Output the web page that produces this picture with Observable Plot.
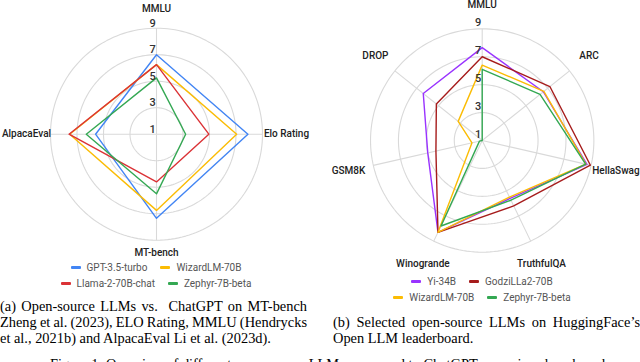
<!DOCTYPE html>
<html><head><meta charset="utf-8">
<script src="https://cdn.jsdelivr.net/npm/d3@7"></script>
<script src="https://cdn.jsdelivr.net/npm/@observablehq/plot@0.6"></script>
<style>
body{margin:0;background:#fff;width:640px;height:362px;overflow:hidden;position:relative;font-family:Roboto,sans-serif}
.chart{position:absolute;top:0}
.legend{position:absolute;font:10px Roboto,sans-serif;color:#555}
.row{display:flex;justify-content:center;align-items:center;height:16px;gap:13px}
.item{display:flex;align-items:center;gap:6px;white-space:nowrap}
.sw{width:10px;height:3px;border-radius:1px}
.cap{position:absolute;font-family:"Liberation Serif","Times New Roman",serif;font-size:14.4px;line-height:16px;color:#000}
.cap div{white-space:nowrap}
.j{text-align:justify;text-align-last:justify;word-spacing:-1.2px}
</style></head><body>
<div id="left" class="chart" style="left:0"></div>
<div id="right" class="chart" style="left:320px"></div>
<div id="legL" class="legend" style="left:0;width:312px;top:259px"></div>
<div id="legR" class="legend" style="left:320px;width:324px;top:273px"></div>
<div class="cap" style="left:0;top:298px;width:307px">
  <div class="j">(a) Open-source LLMs vs.&nbsp; ChatGPT on MT-bench</div>
  <div class="j">Zheng et al. (2023), ELO Rating, MMLU (Hendrycks</div>
  <div>et al., 2021b) and AlpacaEval Li et al. (2023d).</div>
</div>
<div class="cap" style="left:333px;top:314px;width:307px">
  <div class="j">(b) Selected open-source LLMs on HuggingFace’s</div>
  <div>Open LLM leaderboard.</div>
</div>
<div class="cap" style="left:50px;top:356px;width:590px;white-space:nowrap">Figure 1: Overview of different open-source LLMs compared to ChatGPT on various benchmarks.</div>
<script>
// ---- data ----
const ticks = [1, 3, 5, 7, 9];

const leftAxes = ["MMLU", "Elo Rating", "MT-bench", "AlpacaEval"];
const leftSeries = ["GPT-3.5-turbo", "WizardLM-70B", "Llama-2-70B-chat", "Zephyr-7B-beta"];
const leftColors = ["#4285f4", "#fbbc04", "#db3236", "#34a853"];
const gpt35 = [7.0, 7.9, 7.35, 5.6];
const wizardA = [6.25, 7.05, 6.75, 7.55];
const llama2 = [6.25, 4.95, 4.6, 7.6];
const zephyrA = [5.25, 3.2, 5.5, 6.3];

const rightAxes = ["MMLU", "ARC", "HellaSwag", "TruthfulQA", "Winogrande", "GSM8K", "DROP"];
const rightSeries = ["Yi-34B", "GodziLLa2-70B", "WizardLM-70B", "Zephyr-7B-beta"];
const rightColors = ["#9933ff", "#a61c1c", "#fbbc04", "#34a853"];
const yi34 = [7.65, 6.6, 8.7, 5.6, 8.3, 5.0, 6.4];
const godzilla = [7.0, 7.2, 8.95, 6.2, 8.3, 4.4, 5.2];
const wizardB = [6.4, 6.65, 8.62, 5.5, 8.3, 1.75, 3.2];
const zephyrB = [6.1, 6.3, 8.6, 5.75, 7.8, 1.2, 1.0];

// ---- drawing ----
function radar(cfg) {
  const n = cfg.axes.length, k = cfg.k, vmin = 1, vmax = 9;
  const ang = i => 2 * Math.PI * i / n;
  const pt = (i, v) => ({x: (v - vmin) * Math.sin(ang(i)), y: (v - vmin) * Math.cos(ang(i))});
  const rows = cfg.series.flatMap((s, j) => cfg.values[j].map((v, i) => ({series: s, axis: cfg.axes[i], ...pt(i, v)})));
  const rings = ticks.filter(t => t > vmin).flatMap(t => d3.range(0, 360, 2).map(a => ({
    ring: t, x: (t - vmin) * Math.sin(a * Math.PI / 180), y: (t - vmin) * Math.cos(a * Math.PI / 180)})));
  const spokes = cfg.axes.map((a, i) => ({x1: 0, y1: 0, x2: pt(i, vmax).x, y2: pt(i, vmax).y}));
  const outer = (vmax - vmin) * k;
  const labels = cfg.axes.map((a, i) => {
    const c = Math.cos(ang(i)), s = Math.sin(ang(i));
    const pad = (c > 0 ? cfg.padTop : cfg.padBottom) * c * c + cfg.padSide * s * s;
    const r = (outer + pad) / k;
    return {label: a, x: r * s, y: r * c};
  });
  return Plot.plot({
    width: cfg.w, height: cfg.h, margin: 0,
    style: {background: "transparent", fontFamily: "Roboto, sans-serif"},
    x: {axis: null, domain: [-cfg.cx / k, (cfg.w - cfg.cx) / k]},
    y: {axis: null, domain: [-(cfg.h - cfg.cy) / k, cfg.cy / k]},
    color: {domain: cfg.series, range: cfg.colors},
    marks: [
      Plot.line(rings, {x: "x", y: "y", z: "ring", stroke: "#d9d9d9", strokeWidth: 1.1, curve: "linear-closed"}),
      Plot.link(spokes, {x1: "x1", y1: "y1", x2: "x2", y2: "y2", stroke: "#d9d9d9", strokeWidth: 1.1}),
      Plot.line(rows, {x: "x", y: "y", z: "series", stroke: "series", strokeWidth: 1.4, curve: "linear-closed"}),
      Plot.text(ticks, {x: d => 0, y: d => d - vmin, text: d => String(d), dx: -4, dy: cfg.tickDy,
        fill: "#333", fontSize: 11, fontWeight: 500}),
      Plot.text(labels, {x: "x", y: "y", text: "label", fill: "#222", fontSize: 10, fontWeight: 500})
    ]
  });
}

document.getElementById("left").append(radar({
  axes: leftAxes, series: leftSeries, colors: leftColors,
  values: [gpt35, wizardA, llama2, zephyrA],
  w: 320, h: 262, cx: 156, cy: 133.7, k: 13.25,
  padTop: 19, padBottom: 13, padSide: 24, tickDy: -5
}));
document.getElementById("right").append(radar({
  axes: rightAxes, series: rightSeries, colors: rightColors,
  values: [yi34, godzilla, wizardB, zephyrB],
  w: 320, h: 272, cx: 161.7, cy: 140, k: 13.96,
  padTop: 24, padBottom: 25, padSide: 25.5, tickDy: -6.5
}));

function legend(id, names, colors) {
  const el = document.getElementById(id);
  [[0, 1], [2, 3]].forEach(pair => {
    const row = document.createElement("div");
    row.className = "row";
    pair.forEach(i => {
      const it = document.createElement("div");
      it.className = "item";
      it.innerHTML = `<span class="sw" style="background:${colors[i]}"></span><span>${names[i]}</span>`;
      row.append(it);
    });
    el.append(row);
  });
}
legend("legL", leftSeries, leftColors);
legend("legR", rightSeries, rightColors);
</script>
</body></html>
